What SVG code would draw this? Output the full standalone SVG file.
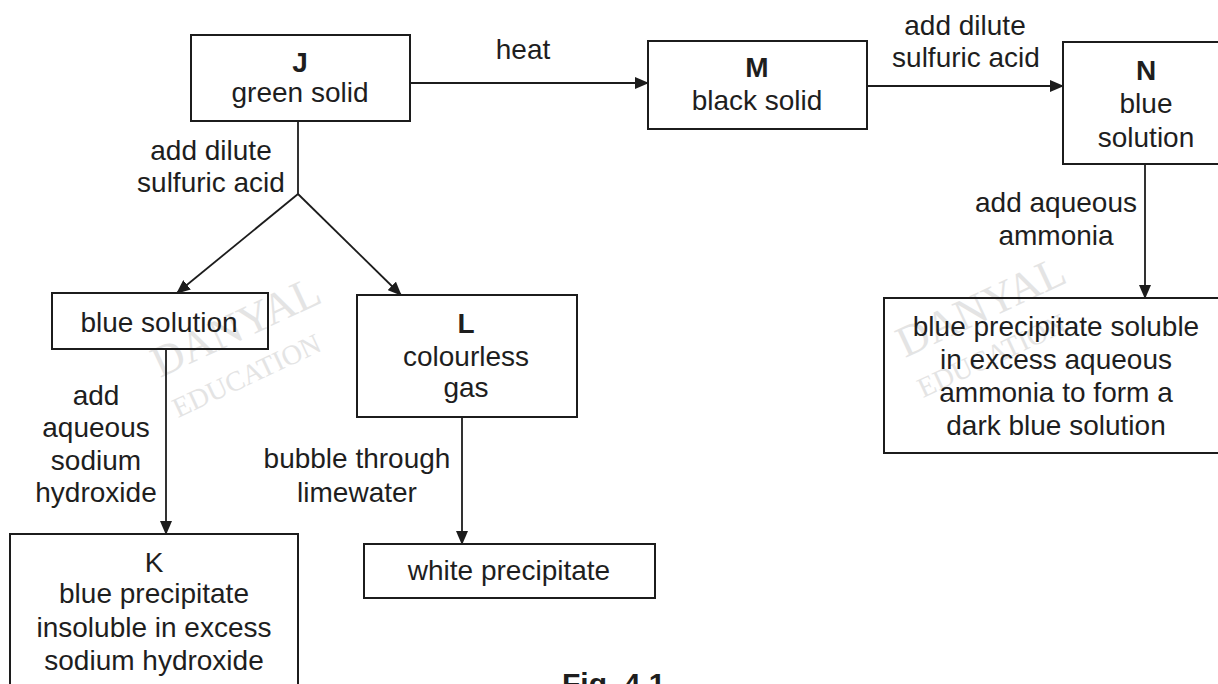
<svg xmlns="http://www.w3.org/2000/svg" width="1218" height="684" viewBox="0 0 1218 684">
<defs>
<style>
.box{fill:none;stroke:#1c1c1c;stroke-width:2}
.ln{fill:none;stroke:#1c1c1c;stroke-width:1.8}
.t{font-family:"Liberation Sans",Arial,sans-serif;font-size:28px;fill:#1e1e1e;text-anchor:middle}
.b{font-weight:bold}
.wm{font-family:"Liberation Serif","Times New Roman",serif;fill:#e4e4e4;text-anchor:start}
</style>
<marker id="ah" markerUnits="userSpaceOnUse" markerWidth="14" markerHeight="12" refX="13" refY="6" orient="auto">
<path d="M0,0 L14,6 L0,12 z" fill="#1c1c1c"/>
</marker>
</defs>
<rect width="1218" height="684" fill="#ffffff"/>

<g id="watermarks">
<text class="wm" font-size="44" transform="translate(160,378) rotate(-25)">DANYAL</text>
<text class="wm" font-size="28" transform="translate(178,418) rotate(-25)">EDUCATION</text>
<text class="wm" font-size="44" transform="translate(905,358) rotate(-25)">DANYAL</text>
<text class="wm" font-size="28" transform="translate(923,398) rotate(-25)">EDUCATION</text>
</g>

<g id="connectors">
<line class="ln" x1="410" y1="83" x2="648" y2="83" marker-end="url(#ah)"/>
<line class="ln" x1="867" y1="86" x2="1063" y2="86" marker-end="url(#ah)"/>
<line class="ln" x1="1145" y1="164" x2="1145" y2="298" marker-end="url(#ah)"/>
<polyline class="ln" points="298,121 298,194"/>
<line class="ln" x1="298" y1="194" x2="177" y2="293" marker-end="url(#ah)"/>
<line class="ln" x1="298" y1="194" x2="401" y2="295" marker-end="url(#ah)"/>
<line class="ln" x1="166" y1="349" x2="166" y2="534" marker-end="url(#ah)"/>
<line class="ln" x1="462" y1="417" x2="462" y2="544" marker-end="url(#ah)"/>
</g>

<g id="labels">
<text class="t" x="523" y="59">heat</text>
<text class="t" x="965" y="35">add dilute</text>
<text class="t" x="966" y="67">sulfuric acid</text>
<text class="t" x="211" y="160">add dilute</text>
<text class="t" x="211" y="192">sulfuric acid</text>
<text class="t" x="1056" y="212">add aqueous</text>
<text class="t" x="1056" y="245">ammonia</text>
<text class="t" x="96" y="405">add</text>
<text class="t" x="96" y="437">aqueous</text>
<text class="t" x="96" y="470">sodium</text>
<text class="t" x="96" y="502">hydroxide</text>
<text class="t" x="357" y="468">bubble through</text>
<text class="t" x="357" y="502">limewater</text>
</g>

<g id="node-J">
<rect class="box" x="191" y="35" width="219" height="86"/>
<text class="t b" x="300" y="72">J</text>
<text class="t" x="300" y="102">green solid</text>
</g>

<g id="node-M">
<rect class="box" x="648" y="41" width="219" height="88"/>
<text class="t b" x="757" y="77">M</text>
<text class="t" x="757" y="110">black solid</text>
</g>

<g id="node-N">
<rect class="box" x="1063" y="42" width="172" height="122"/>
<text class="t b" x="1146" y="80">N</text>
<text class="t" x="1146" y="113">blue</text>
<text class="t" x="1146" y="147">solution</text>
</g>

<g id="node-ammonia-result">
<rect class="box" x="884" y="298" width="350" height="155"/>
<text class="t" x="1056" y="336">blue precipitate soluble</text>
<text class="t" x="1056" y="369">in excess aqueous</text>
<text class="t" x="1056" y="402">ammonia to form a</text>
<text class="t" x="1056" y="435">dark blue solution</text>
</g>

<g id="node-blue-solution">
<rect class="box" x="52" y="293" width="216" height="56"/>
<text class="t" x="159" y="332">blue solution</text>
</g>

<g id="node-L">
<rect class="box" x="357" y="295" width="220" height="122"/>
<text class="t b" x="466" y="333">L</text>
<text class="t" x="466" y="366">colourless</text>
<text class="t" x="466" y="397">gas</text>
</g>

<g id="node-K">
<rect class="box" x="10" y="534" width="288" height="170"/>
<text class="t" x="154" y="572">K</text>
<text class="t" x="154" y="603">blue precipitate</text>
<text class="t" x="154" y="637">insoluble in excess</text>
<text class="t" x="154" y="670">sodium hydroxide</text>
</g>

<g id="node-white-precipitate">
<rect class="box" x="364" y="544" width="291" height="54"/>
<text class="t" x="509" y="580">white precipitate</text>
</g>

<g id="caption">
<text class="t b" x="562" y="694" style="text-anchor:start;font-size:30px">Fig. 4.1</text>
</g>
</svg>
